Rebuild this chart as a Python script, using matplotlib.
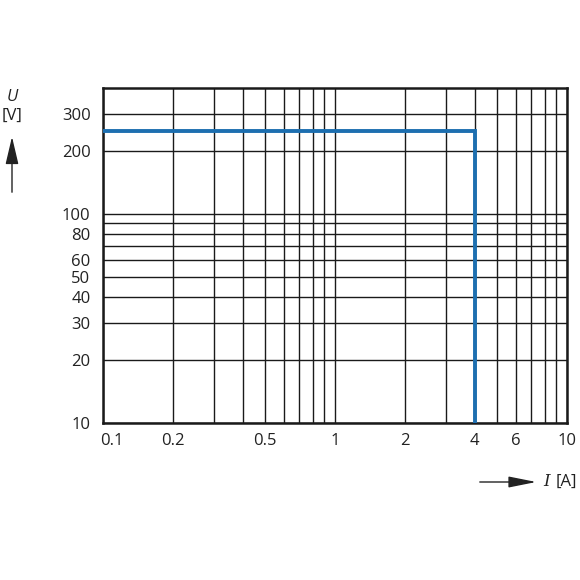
import matplotlib.pyplot as plt
from matplotlib.patches import FancyArrowPatch
from matplotlib.ticker import FixedLocator, NullFormatter
from matplotlib.transforms import ScaledTranslation

plt.rcParams['font.family'] = ['Open Sans', 'DejaVu Sans']

# data
curve_i = [0.1, 4, 4]
curve_u = [250, 250, 10]

x_grid = [0.1, 0.2, 0.3, 0.4, 0.5, 0.6, 0.7, 0.8, 0.9, 1, 2, 3, 4, 5, 6, 7, 8, 9, 10]
y_grid = [10, 20, 30, 40, 50, 60, 70, 80, 90, 100, 200, 300]
x_labels = [0.1, 0.2, 0.5, 1, 2, 4, 6, 10]
y_labels = [10, 20, 30, 40, 50, 60, 80, 100, 200, 300]

fig = plt.figure(figsize=(5.8, 5.8), dpi=100)
ax = fig.add_axes([0.1776, 0.2707, 0.8, 0.5776])

ax.set_xscale('log')
ax.set_yscale('log')
ax.set_xlim(0.1, 10)
ax.set_ylim(10, 400)

ax.xaxis.set_major_locator(FixedLocator(x_labels))
ax.xaxis.set_minor_locator(FixedLocator(x_grid))
ax.yaxis.set_major_locator(FixedLocator(y_labels))
ax.yaxis.set_minor_locator(FixedLocator(y_grid))
ax.set_xticklabels([f"{v:g}" for v in x_labels])
ax.set_yticklabels([f"{v:g}" for v in y_labels])
ax.xaxis.set_minor_formatter(NullFormatter())
ax.yaxis.set_minor_formatter(NullFormatter())
ax.tick_params(which='both', length=0, labelsize=12, colors='#222222')
ax.tick_params(axis='x', pad=7)
ax.tick_params(axis='y', pad=9)

# first x label sits a bit right of the axis
first = ax.get_xticklabels()[0]
first.set_transform(first.get_transform() + ScaledTranslation(9 / 100, 0, fig.dpi_scale_trans))

ax.grid(True, which='both', color='#1a1a1a', linewidth=1.0)
ax.set_axisbelow(True)
for s in ax.spines.values():
    s.set_linewidth(1.8)
    s.set_color('#1a1a1a')

ax.plot(curve_i, curve_u, color='#1d6fb0', linewidth=2.8, solid_joinstyle='miter', zorder=3)

# axis labels with arrows
fig.text(12 / 580, 1 - 97 / 580, 'U', style='italic', fontsize=12, ha='center', va='center', color='#222222')
fig.text(12 / 580, 1 - 116 / 580, '[V]', fontsize=12, ha='center', va='center', color='#222222')
fig.add_artist(FancyArrowPatch(
    (12 / 580, 1 - 195 / 580), (12 / 580, 1 - 134 / 580), transform=fig.transFigure,
    arrowstyle='-|>,head_length=0.85,head_width=0.2', mutation_scale=20, color='#222222', linewidth=1))
fig.add_artist(FancyArrowPatch(
    (477 / 580, 1 - 482 / 580), (539 / 580, 1 - 482 / 580), transform=fig.transFigure,
    arrowstyle='-|>,head_length=0.85,head_width=0.17', mutation_scale=20, color='#222222', linewidth=1))
fig.text(547 / 580, 1 - 482 / 580, 'I', style='italic', fontsize=12, ha='center', va='center',
         family='DejaVu Serif', color='#222222')
fig.text(566 / 580, 1 - 482 / 580, '[A]', fontsize=12, ha='center', va='center', color='#222222')

fig.savefig('out.png', dpi=100)
